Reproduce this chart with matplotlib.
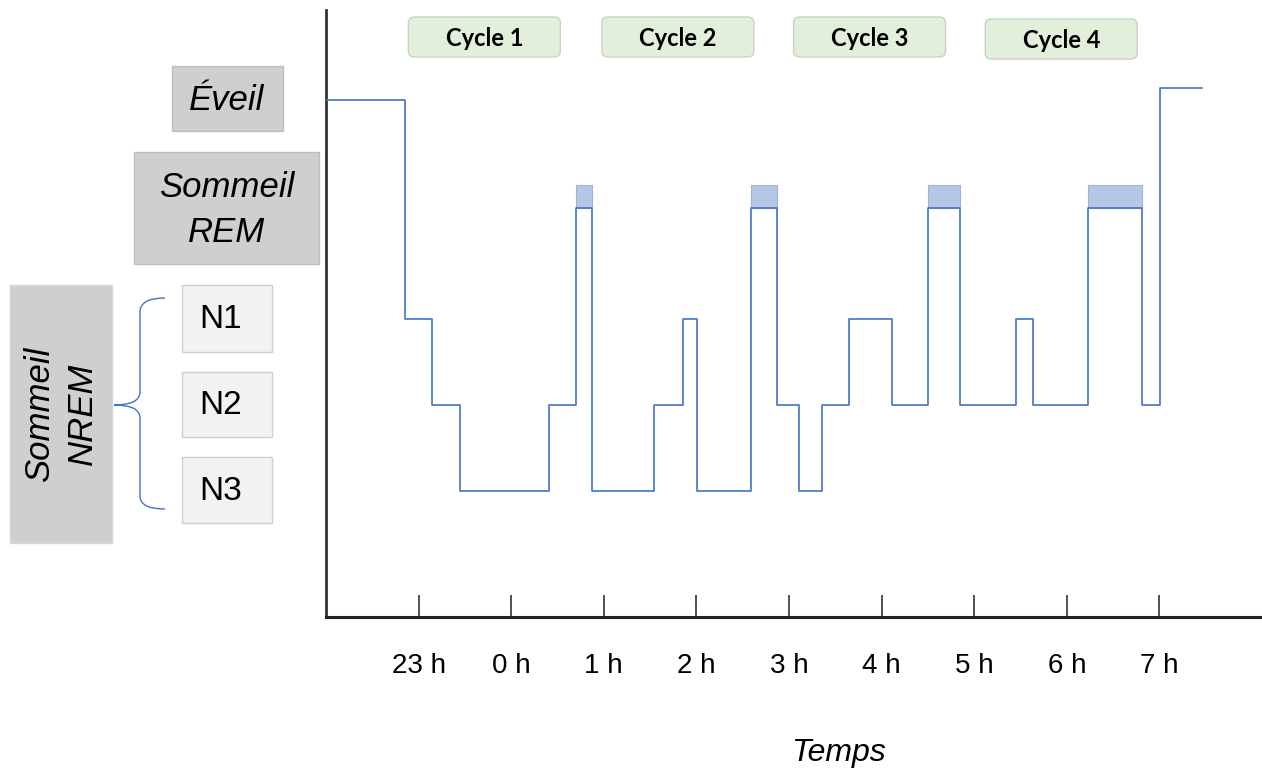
import matplotlib.pyplot as plt
from matplotlib.patches import FancyBboxPatch, Rectangle, PathPatch
from matplotlib.path import Path

# Data: hypnogram (time in hours after 22 h, stage level)
t_edges = [0, 0.85, 1.15, 1.45, 2.41, 2.70, 2.87, 3.54, 3.85, 4.01, 4.59, 4.87,
           5.11, 5.36, 5.65, 6.11, 6.50, 6.85, 7.45, 7.64, 8.23, 8.81, 9.01, 9.46]
stages = ['Éveil', 'N1', 'N2', 'N3', 'N2', 'REM', 'N3', 'N2', 'N1', 'N3', 'REM', 'N2',
          'N3', 'N2', 'N1', 'N2', 'REM', 'N2', 'N1', 'N2', 'REM', 'N2', 'Éveil']
stage_level = {'N3': 0, 'N2': 1, 'N1': 2, 'REM': 3.29, 'Éveil': 4.55}
final_wake_level = 4.69
rem_band = 0.27

hour_ticks = [1, 2, 3, 4, 5, 6, 7, 8, 9]
hour_labels = ['23 h', '0 h', '1 h', '2 h', '3 h', '4 h', '5 h', '6 h', '7 h']

cycle_names = ['Cycle 1', 'Cycle 2', 'Cycle 3', 'Cycle 4']
cycle_centers = [1.71, 3.80, 5.87, 7.94]

line_blue = '#4472C4'
W, H = 1262, 773

fig = plt.figure(figsize=(W / 100, H / 100), dpi=100)
ax = fig.add_axes([326 / W, (H - 617) / H, (W - 326) / W, (617 - 10) / H])
ax.set_facecolor('none')

levels = [stage_level[s] for s in stages]
levels[-1] = final_wake_level
ax.step(t_edges, levels + [levels[-1]], where='post', color=line_blue, lw=1.2, zorder=3)

# REM blocks
for i, s in enumerate(stages):
    if s == 'REM':
        ax.bar(t_edges[i], rem_band, width=t_edges[i + 1] - t_edges[i],
               bottom=stage_level['REM'], align='edge', color='#B4C7E7',
               edgecolor='#9DB4DC', lw=0.8, zorder=2)

ax.set_xlim(0, (W - 326) / 92.6)
ax.set_ylim(-1.465, 5.593)
for side in ['top', 'right']:
    ax.spines[side].set_visible(False)
ax.spines['left'].set_linewidth(2)
ax.spines['left'].set_color('#333333')
ax.spines['bottom'].set_linewidth(2.2)
ax.spines['bottom'].set_color('#222222')
ax.set_yticks([])
ax.set_xticks(hour_ticks, hour_labels)
ax.tick_params(axis='x', direction='in', length=16, width=1.2, color='#333333', pad=26)
for lab in ax.get_xticklabels():
    lab.set_family(['Liberation Sans Narrow', 'Liberation Sans'])
    lab.set_fontsize(20)

# overlay in pixel coordinates for the decorations
deco = fig.add_axes([0, 0, 1, 1])
deco.set_xlim(0, W)
deco.set_ylim(H, 0)
deco.axis('off')
deco.set_facecolor('none')

def to_px(t):
    disp = ax.transData.transform((t, 0))
    return deco.transData.inverted().transform(disp)[0]

for name, c in zip(cycle_names, cycle_centers):
    cx = to_px(c)
    y0 = 17 if name != 'Cycle 4' else 19
    deco.add_patch(FancyBboxPatch((cx - 76, y0), 152, 40,
                                  boxstyle='round,pad=0,rounding_size=6',
                                  fc='#E2EFDA', ec='#C9D3C3', lw=1))
    deco.text(cx, y0 + 21, name, ha='center', va='center', fontsize=17,
              fontweight='bold', family='Lato')

# left stage labels
gray = '#D0CECE'
label_font = dict(family='Liberation Sans', style='italic', fontsize=25, color='black')
deco.add_patch(Rectangle((172, 66), 111, 65, fc=gray, ec='#BDBDBD', lw=1))
deco.text(227, 101, 'Éveil', ha='center', va='center', **label_font)
deco.add_patch(Rectangle((134, 152), 185, 112, fc=gray, ec='#BDBDBD', lw=1))
deco.text(227, 210, 'Sommeil\nREM', ha='center', va='center', linespacing=1.45, **label_font)
deco.add_patch(Rectangle((10, 285), 102, 258, fc=gray, ec='#D6D6D6', lw=1))
deco.text(61, 414, 'Sommeil\nNREM', ha='center', va='center', rotation=90,
          linespacing=1.4, **label_font)

for name, (y0, y1) in zip(['N1', 'N2', 'N3'], [(285, 352), (372, 437), (457, 523)]):
    deco.add_patch(Rectangle((182, y0), 90, y1 - y0, fc='#F2F2F2', ec='#D0D0D0', lw=1))
    deco.text(221, (y0 + y1) / 2 + 1, name, ha='center', va='center',
              family='Liberation Sans', fontsize=24)

# curly brace
verts = [(165, 298), (140, 298), (140, 312), (140, 392), (140, 405), (114, 405),
         (140, 405), (140, 418), (140, 496), (140, 509), (165, 509)]
codes = [Path.MOVETO, Path.CURVE3, Path.CURVE3, Path.LINETO, Path.CURVE3, Path.CURVE3,
         Path.CURVE3, Path.CURVE3, Path.LINETO, Path.CURVE3, Path.CURVE3]
deco.add_patch(PathPatch(Path(verts, codes), fc='none', ec=line_blue, lw=1))

fig.text(838 / W, 1 - 753 / H, 'Temps', ha='center', va='center', style='italic',
         fontsize=23, family=['Liberation Sans Narrow', 'Liberation Sans'])

fig.savefig('out.png', dpi=100)
